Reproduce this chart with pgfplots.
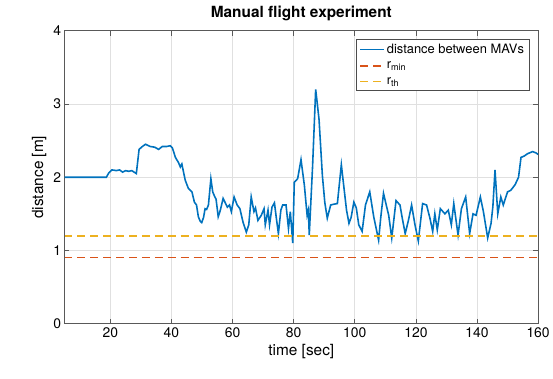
\documentclass[border=0pt]{standalone}
\usepackage{pgfplots}
\pgfplotsset{compat=1.18}
\usepackage{fontspec}
\setmainfont{TeX Gyre Heros}
\definecolor{matlabBlue}{rgb}{0,0.447,0.741}
\definecolor{matlabRed}{rgb}{0.85,0.325,0.098}
\definecolor{matlabYellow}{rgb}{0.929,0.694,0.125}
\pgfplotsset{
  rmin/.style={draw=matlabRed, line width=1.5pt, dash pattern=on 8pt off 5pt},
  rth/.style={draw=matlabYellow, line width=1.5pt, dash pattern=on 8pt off 5pt},
}
\begin{document}
\begin{tikzpicture}
\begin{axis}[
  scale only axis, width=477pt, height=295pt,
  xmin=5, xmax=160, ymin=0, ymax=4,
  xtick={20,40,...,160}, ytick={0,1,2,3,4},
  grid=major, major grid style={draw=black!12, line width=0.6pt},
  axis line style={draw=black!65, line width=0.7pt},
  tick style={draw=black!65, line width=0.7pt},
  tick align=inside, major tick length=5pt,
  /pgf/number format/assume math mode=true,
  ticklabel style={font=\fontsize{14}{16}\selectfont},
  xlabel={time [sec]}, ylabel={distance [m]},
  label style={font=\fontsize{15.5}{18}\selectfont},
  title={Manual flight experiment},
  title style={font=\fontsize{15.5}{18}\selectfont\bfseries},
  legend style={at={(1,1)}, anchor=north east, xshift=-9pt, yshift=-8pt,
    font=\fontsize{13}{15}\selectfont, draw=black!70,
    cells={anchor=west}, row sep=3pt, inner xsep=3pt, inner ysep=3pt},
  legend image code/.code={\draw[#1] (0pt,0pt) -- (12pt,0pt) -- (24pt,0pt);},
]
\addplot[draw=matlabBlue, line width=1.6pt] coordinates {
(5,2.0) (18.7,2.0) (19.5,2.06) (20.5,2.10) (22,2.09) (23,2.10) (24,2.07) (25,2.09)
(26,2.08) (27,2.09) (28.5,2.05) (29.4,2.38) (30.5,2.42) (31.5,2.45) (33,2.42)
(34.5,2.41) (35.8,2.38) (37,2.42) (38.5,2.42) (39.6,2.43) (40.3,2.40) (41.3,2.27)
(42.3,2.20) (42.9,2.14) (43.4,2.18) (44.5,1.96) (45.5,1.85) (46.7,1.80) (47.5,1.66)
(48.2,1.62) (48.8,1.46) (49.4,1.40) (49.9,1.38) (50.5,1.45) (51,1.57) (51.5,1.56)
(52.1,1.62) (52.9,1.98) (53.5,1.80) (54,1.75) (54.6,1.70) (55.3,1.46) (56,1.55)
(56.9,1.71) (57.5,1.66) (58.3,1.59) (59,1.62) (59.6,1.53) (60.5,1.73) (61.5,1.62)
(62.4,1.57) (63.4,1.39) (64.5,1.25) (65.3,1.35) (66.1,1.73) (67,1.53) (67.5,1.58)
(68.3,1.41) (69.4,1.48) (70.3,1.57) (70.7,1.35) (71.6,1.55) (72.1,1.35) (72.9,1.59)
(73.7,1.65) (74.3,1.45) (75,1.23) (75.8,1.55) (76.4,1.62) (77.5,1.62) (78.3,1.30)
(78.9,1.53) (79.7,1.10) (80.2,1.93) (81.3,1.98) (82.4,2.24) (83.5,1.89) (84.4,1.48)
(84.8,1.55) (85.1,1.21) (86.2,2.16) (87.2,3.20) (88.3,2.79) (89.4,2.02) (90.2,1.65)
(91,1.44) (92.1,1.62) (93,1.63) (94.3,1.64) (95.6,2.17) (96.5,1.84) (97.3,1.55)
(98.1,1.37) (98.8,1.45) (99.7,1.66) (100.5,1.58) (101.3,1.35) (102.4,1.26)
(103.5,1.62) (104.9,1.80) (106.2,1.46) (107,1.30) (107.8,1.14) (108.5,1.45)
(109.4,1.78) (110.3,1.62) (111.1,1.48) (112.1,1.17) (113.5,1.68) (114.8,1.62)
(115.5,1.45) (116.5,1.23) (117.5,1.40) (118.6,1.62) (119.7,1.35) (120.8,1.13)
(122.2,1.64) (123.5,1.62) (124.6,1.44) (125.5,1.26) (126.2,1.50) (127,1.28)
(128,1.57) (129.5,1.50) (130.6,1.55) (131.6,1.35) (132.4,1.64) (133.8,1.21)
(134.9,1.57) (136.3,1.73) (137.6,1.23) (138.7,1.50) (139.7,1.48) (141.1,1.73)
(142.1,1.53) (143.5,1.17) (144.6,1.37) (145.2,1.60) (145.9,2.10) (146.8,1.50)
(147.8,1.73) (148.6,1.62) (150,1.80) (151,1.82) (151.6,1.85) (152.5,1.90)
(153.6,2.00) (154.4,2.27) (155.5,2.29) (156.5,2.32) (158.2,2.35) (159.4,2.33) (160,2.31)
};
\addlegendentry{distance between MAVs}
\addplot[rmin] coordinates {(5,0.9) (82.5,0.9) (160,0.9)};
\addlegendentry{r\textsubscript{min}}
\addplot[rth] coordinates {(5,1.2) (82.5,1.2) (160,1.2)};
\addlegendentry{r\textsubscript{th}}
\end{axis}
\path (current axis.south west) ++(-65pt,-55pt) rectangle ([xshift=11pt,yshift=31pt]current axis.north east);
\end{tikzpicture}
\end{document}
